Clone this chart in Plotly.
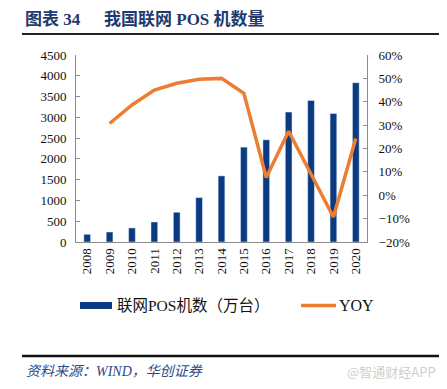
import plotly.graph_objects as go

years = ["2008", "2009", "2010", "2011", "2012", "2013", "2014",
         "2015", "2016", "2017", "2018", "2019", "2020"]
pos_count = [185, 241, 338, 482, 716, 1068, 1591, 2283, 2459, 3126, 3407, 3093, 3833]
yoy = [None, 0.307, 0.386, 0.450, 0.479, 0.496, 0.500, 0.436, 0.076, 0.274, 0.093, -0.093, 0.243]

OFF = 8  # browser body margin
W, H = 447 - OFF, 389 - OFF
L, R, T, B = 76 - OFF, 367 - OFF, 55 - OFF, 242 - OFF

def px(x):
    return (x - OFF - L) / (R - L)

def py(y):
    return (B - (y - OFF)) / (B - T)

BAR = "#0A3A82"
LINE = "#ED7D31"
SERIF = "Liberation Serif, Times New Roman, Noto Sans CJK SC"

fig = go.Figure()
fig.add_trace(go.Bar(x=years, y=pos_count, marker_color=BAR, width=0.3,
                     name="联网POS机数（万台）", yaxis="y"))
fig.add_trace(go.Scatter(x=years, y=yoy, mode="lines", line=dict(color=LINE, width=3.5),
                         name="YOY", yaxis="y2", connectgaps=False))

axis_common = dict(showgrid=False, zeroline=False, showline=True, linecolor="#8c8c8c",
                   linewidth=1, ticks="inside", ticklen=4, tickcolor="#8c8c8c",
                   tickfont=dict(family=SERIF, size=13, color="#111"))

fig.update_layout(
    width=W, height=H,
    margin=dict(l=L, r=W - R, t=T, b=H - B),
    paper_bgcolor="white", plot_bgcolor="white",
    showlegend=False,
    xaxis=dict(type="category", showgrid=False, showline=True, linecolor="#8c8c8c",
               ticks="", tickangle=-90,
               tickfont=dict(family=SERIF, size=13, color="#111")),
    yaxis=dict(range=[0, 4500], dtick=500, ticklabelstandoff=6, **axis_common),
    yaxis2=dict(range=[-0.2, 0.6], dtick=0.1, tickformat=".0%", overlaying="y",
                side="right", ticklabelstandoff=8, **axis_common),
)

shapes = [
    dict(type="line", xref="paper", yref="paper", x0=px(22), x1=px(447), y0=py(34), y1=py(34),
         line=dict(color="#222", width=2)),
    dict(type="line", xref="paper", yref="paper", x0=px(22), x1=px(447), y0=py(356), y1=py(356),
         line=dict(color="#111", width=2.5)),
    # legend symbols
    dict(type="rect", xref="paper", yref="paper", x0=px(80), x1=px(112), y0=py(309), y1=py(302),
         fillcolor=BAR, line=dict(width=0)),
    dict(type="line", xref="paper", yref="paper", x0=px(301), x1=px(336), y0=py(305.5), y1=py(305.5),
         line=dict(color=LINE, width=3.5)),
]

annotations = [
    dict(text="图表 34", xref="paper", yref="paper",
         x=px(83), y=py(20), xanchor="right", yanchor="middle", showarrow=False,
         font=dict(family=SERIF, size=17, color="#1F3A6E", weight="bold")),
    dict(text="我国联网 POS 机数量", xref="paper", yref="paper",
         x=px(102), y=py(20), xanchor="left", yanchor="middle", showarrow=False,
         font=dict(family=SERIF, size=17, color="#1F3A6E", weight="bold")),
    dict(text="联网POS机数（万台）", xref="paper", yref="paper",
         x=px(115), y=py(305), xanchor="left", yanchor="middle", showarrow=False,
         font=dict(family=SERIF, size=15.5, color="#111")),
    dict(text="YOY", xref="paper", yref="paper",
         x=px(337), y=py(305), xanchor="left", yanchor="middle", showarrow=False,
         font=dict(family=SERIF, size=16, color="#111")),
    dict(text="<i>资料来源：WIND，华创证券</i>", xref="paper", yref="paper",
         x=px(24), y=py(371), xanchor="left", yanchor="middle", showarrow=False,
         font=dict(family=SERIF, size=14, color="#2B4A8A")),
    dict(text="@智通财经APP", xref="paper", yref="paper",
         x=px(438), y=py(371), xanchor="right", yanchor="middle", showarrow=False,
         font=dict(family="Noto Sans CJK SC", size=13, color="#cfcfcf")),
]

fig.update_layout(shapes=shapes, annotations=annotations)
fig.write_html("out.html")
